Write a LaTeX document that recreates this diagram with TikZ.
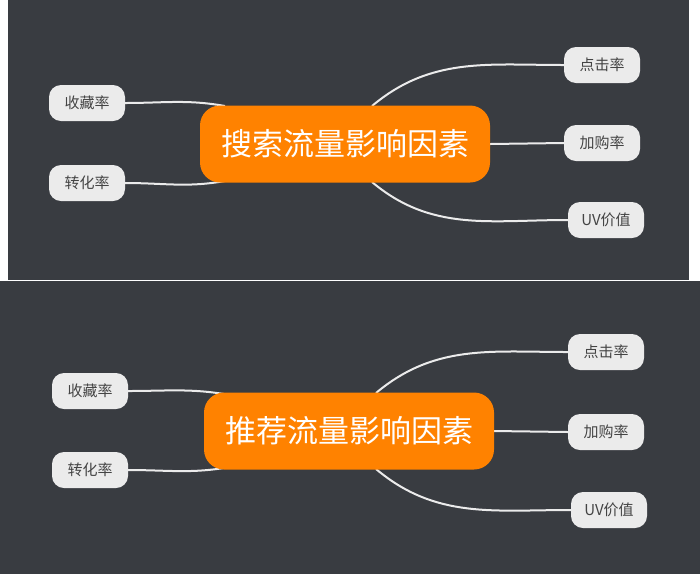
\documentclass[tikz,border=0pt]{standalone}
\usepackage{fontspec}
\usetikzlibrary{backgrounds}
\setmainfont{Noto Sans CJK SC}
\definecolor{bg}{HTML}{393C41}
\definecolor{org}{HTML}{FF8200}
\definecolor{leaf}{HTML}{EBEBEB}
\definecolor{lt}{HTML}{444444}
\begin{document}
\begin{tikzpicture}[x=1pt,y=-1pt,
 center/.style={fill=org,rounded corners=20pt,minimum width=290pt,minimum height=77pt,text=white,font=\fontsize{31}{33}\selectfont,inner sep=0pt},
 leafn/.style={fill=leaf,rounded corners=12pt,minimum width=76pt,minimum height=36pt,text=lt,font=\fontsize{15}{17}\selectfont,inner sep=0pt},
 conn/.style={draw=white!92!black,line width=2pt}]
\useasboundingbox (0,0) rectangle (700,574);
% top
\node[center] (c1) at (345,144) {搜索流量影响因素};
\node[leafn] (a1) at (87,103) {收藏率};
\node[leafn] (b1) at (87,183) {转化率};
\node[leafn] (d1) at (602,65) {点击率};
\node[leafn] (e1) at (602,143) {加购率};
\node[leafn] (f1) at (606,220) {UV价值};
\coordinate (pa1) at (225,106);
\coordinate (pb1) at (225,181);
\coordinate (pd1) at (372,106);
\coordinate (pf1) at (372,182);
% bottom
\node[center] (c2) at (349,431) {推荐流量影响因素};
\node[leafn] (a2) at (90,391) {收藏率};
\node[leafn] (b2) at (90,470) {转化率};
\node[leafn] (d2) at (606,352) {点击率};
\node[leafn] (e2) at (606,432) {加购率};
\node[leafn] (f2) at (609,510) {UV价值};
\coordinate (pa2) at (230,395);
\coordinate (pb2) at (230,467);
\coordinate (pd2) at (376,393);
\coordinate (pf2) at (376,469);
\begin{scope}[on background layer]
\fill[white] (0,0) rectangle (700,574);
\fill[bg] (8,0) rectangle (689,280);
\fill[bg] (0,281) rectangle (700,574);
\draw[conn] (a1.east) to[out=0,in=170] (pa1);
\draw[conn] (b1.east) to[out=0,in=190] (pb1);
\draw[conn] (pd1) to[out=40,in=180] (d1.west);
\draw[conn] (c1.east) -- (e1.west);
\draw[conn] (pf1) to[out=-40,in=180] (f1.west);
\draw[conn] (a2.east) to[out=0,in=170] (pa2);
\draw[conn] (b2.east) to[out=0,in=190] (pb2);
\draw[conn] (pd2) to[out=40,in=180] (d2.west);
\draw[conn] (c2.east) -- (e2.west);
\draw[conn] (pf2) to[out=-40,in=180] (f2.west);
\end{scope}
\end{tikzpicture}
\end{document}
